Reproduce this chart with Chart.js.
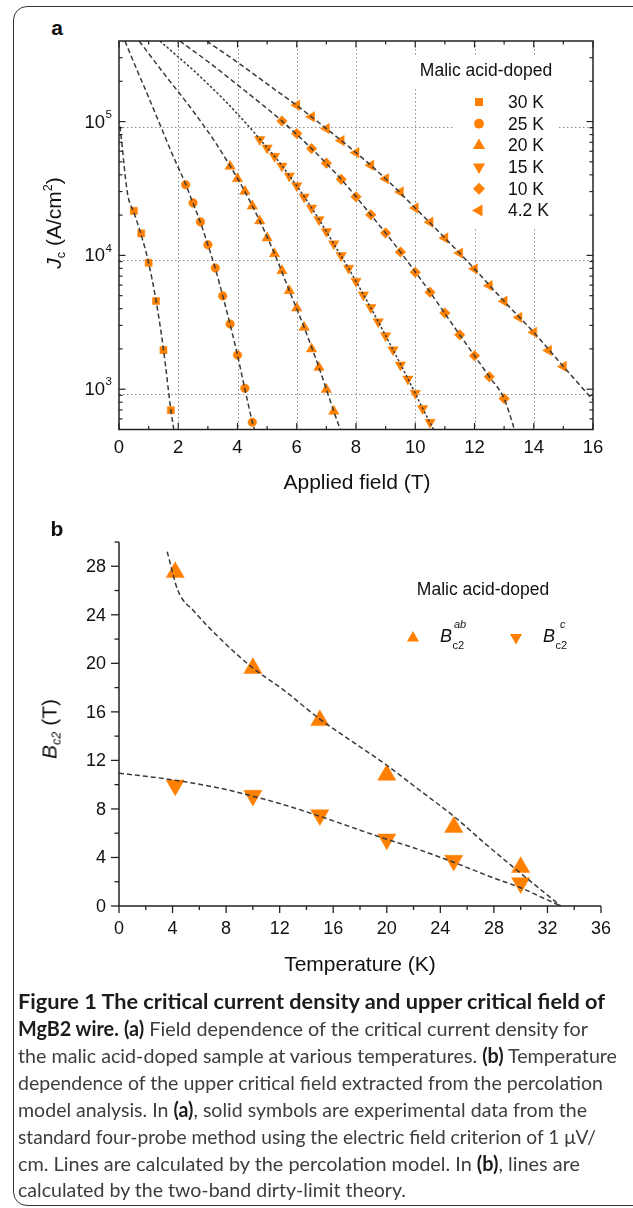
<!DOCTYPE html>
<html>
<head>
<meta charset="utf-8">
<title>MgB2 wire - Jc and Bc2</title>
<script src="https://cdn.jsdelivr.net/npm/chart.js@4.4.1/dist/chart.umd.min.js"></script>
<style>
  html, body { margin: 0; padding: 0; background: #fff; }
  body { width: 633px; height: 1208px; position: relative; overflow: hidden; font-family: "Liberation Sans", Arial, sans-serif; color: #111; }
  .frame { position: absolute; left: 13px; top: 6px; width: 700px; height: 1200px; border: 1.5px solid #333; border-radius: 14px; box-sizing: border-box; }
  .panel { position: absolute; font-weight: bold; font-size: 21px; line-height: 1; transform: translate(-50%, -50%); }
  canvas { position: absolute; left: 0; }
  .ytitle { position: absolute; line-height: 1; white-space: nowrap; font-size: 21px; transform: translate(-50%, -50%) rotate(-90deg); }
  .xtitle { position: absolute; line-height: 1; white-space: nowrap; font-size: 21px; transform: translate(-50%, -50%); }
  sub { font-size: 0.6em; vertical-align: -0.35em; }
  sup { font-size: 0.6em; vertical-align: 0.65em; }
  .cap { position: absolute; left: 18px; white-space: nowrap; line-height: 1; font-family: Lato, "Open Sans", sans-serif; font-size: 20px; color: #3d3d3d; transform-origin: 0 50%; }
  .cap b { color: #1c1c1c; }
</style>
</head>
<body>
<div class="frame"></div>

<div class="panel" style="left:57px;top:27px">a</div>
<canvas id="chartA" width="633" height="500" style="top:0"></canvas>
<div class="ytitle" style="left:55px;top:223px"><i>J</i><sub>c</sub> (A/cm<sup>2</sup>)</div>
<div class="xtitle" style="left:357px;top:481px">Applied field (T)</div>

<div class="panel" style="left:57px;top:528px">b</div>
<canvas id="chartB" width="633" height="480" style="top:500px"></canvas>
<div class="ytitle" style="left:51px;top:729px"><i>B</i><sub><i>c2</i></sub> (T)</div>
<div class="xtitle" style="left:360px;top:963px">Temperature (K)</div>

<div class="cap" data-w="587" style="top:991px"><b>Figure 1 The critical current density and upper critical field of</b></div>
<div class="cap" data-w="570" style="top:1018px"><b>MgB2 wire.</b> <b>(a)</b> Field dependence of the critical current density for</div>
<div class="cap" data-w="599" style="top:1045px">the malic acid-doped sample at various temperatures. <b>(b)</b> Temperature</div>
<div class="cap" data-w="585" style="top:1072px">dependence of the upper critical field extracted from the percolation</div>
<div class="cap" data-w="569" style="top:1099px">model analysis. In <b>(a)</b>, solid symbols are experimental data from the</div>
<div class="cap" data-w="578" style="top:1126px">standard four-probe method using the electric field criterion of 1 μV/</div>
<div class="cap" data-w="562" style="top:1153px">cm. Lines are calculated by the percolation model. In <b>(b)</b>, lines are</div>
<div class="cap" data-w="388" style="top:1179px">calculated by the two-band dirty-limit theory.</div>

<script>
// ---- panel a: Jc vs applied field (T), measured points ----
const field30 = [0.5, 0.75, 1.0, 1.25, 1.5, 1.75];
const jc30 = [21500, 14600, 8800, 4560, 1960, 697];
const field25 = [2.25, 2.5, 2.75, 3.0, 3.25, 3.5, 3.75, 4.0, 4.25, 4.5];
const jc25 = [33700, 24700, 17800, 12000, 8060, 4980, 3070, 1800, 1016, 566];
const field20 = [3.75, 4.0, 4.25, 4.5, 4.75, 5.0, 5.25, 5.5, 5.75, 6.0, 6.25, 6.5, 6.75, 7.0, 7.25];
const jc20 = [46300, 37400, 30100, 23400, 18100, 13500, 10300, 7690, 5450, 4040, 2900, 2000, 1455, 996, 684];
const field15 = [4.75, 5.0, 5.25, 5.5, 5.75, 6.0, 6.25, 6.5, 6.75, 7.0, 7.25, 7.5, 7.75, 8.0, 8.25, 8.5, 8.75, 9.0, 9.25, 9.5, 9.75, 10.0, 10.25, 10.5];
const jc15 = [73300, 63500, 55000, 46500, 39200, 33200, 27300, 22600, 18500, 15100, 12200, 9970, 8020, 6410, 5060, 4080, 3190, 2510, 1970, 1520, 1190, 933, 717, 566];
const field10 = [5.5, 6.0, 6.5, 7.0, 7.5, 8.0, 8.5, 9.0, 9.5, 10.0, 10.5, 11.0, 11.5, 12.0, 12.5, 13.0];
const jc10 = [100900, 81300, 62800, 48900, 37000, 27400, 20100, 14700, 10600, 7480, 5300, 3710, 2550, 1780, 1240, 851];
const field4 = [6.0, 6.5, 7.0, 7.5, 8.0, 8.5, 9.0, 9.5, 10.0, 10.5, 11.0, 11.5, 12.0, 12.5, 13.0, 13.5, 14.0, 14.5, 15.0];
const jc4 = [132400, 108500, 88600, 72100, 58600, 47100, 37400, 29800, 22600, 17700, 13500, 10400, 7930, 5940, 4540, 3440, 2660, 1950, 1480];

// percolation model lines
const fit30Field = [0.03, 0.1, 0.2, 0.3, 0.5, 0.75, 1.0, 1.25, 1.5, 1.75, 1.85];
const fit30Jc = [92000, 68000, 41000, 28000, 21000, 14200, 8800, 4600, 2000, 700, 500];
const fit25Field = [0.2, 0.6, 1.0, 1.4, 1.8, 2.25, 2.5, 2.75, 3.0, 3.25, 3.5, 3.75, 4.0, 4.25, 4.5, 4.57];
const fit25Jc = [400000, 245000, 152000, 93000, 57000, 34000, 24500, 17600, 12000, 8000, 5000, 3050, 1800, 1000, 570, 500];
const fit20Field = [0.68, 1.5, 2.5, 3.25, 3.75, 4.25, 4.75, 5.25, 5.75, 6.25, 6.75, 7.25, 7.47];
const fit20Jc = [400000, 231000, 120000, 70000, 46600, 30000, 18100, 10300, 5450, 2900, 1450, 684, 500];
const fit15Field = [1.38, 2.0, 2.5, 3.0, 3.5, 4.0, 4.5, 4.75, 5.25, 5.75, 6.25, 6.75, 7.25, 7.75, 8.25, 8.75, 9.25, 9.75, 10.25, 10.62];
const fit15Jc = [400000, 304000, 243000, 191000, 149000, 114000, 86000, 74000, 55000, 39500, 27500, 18600, 12200, 8000, 5100, 3200, 1970, 1200, 720, 500];
const fit10Field = [2.05, 3.0, 4.0, 5.0, 5.5, 6.5, 7.5, 8.5, 9.5, 10.5, 11.5, 12.5, 13.0, 13.35];
const fit10Jc = [400000, 281000, 188000, 125000, 101000, 62800, 37000, 20100, 10600, 5300, 2550, 1240, 851, 500];
const fit4Field = [2.96, 4.0, 5.0, 6.0, 7.0, 8.0, 9.0, 10.0, 11.0, 12.0, 13.0, 14.0, 15.0, 16.0];
const fit4Jc = [400000, 277000, 191000, 132000, 88600, 58600, 37400, 22600, 13500, 7930, 4540, 2660, 1480, 830];

const tempLabels = ['30 K', '25 K', '20 K', '15 K', '10 K', '4.2 K'];
const fieldTicks = [0, 2, 4, 6, 8, 10, 12, 14, 16];
const fieldMinorTicks = [1, 3, 5, 7, 9, 11, 13, 15];
const jcDecades = [1e3, 1e4, 1e5];

// ---- panel b: Bc2 vs temperature ----
const tempAb = [4.2, 10, 15, 20, 25, 30];
const bc2Ab = [27.5, 19.6, 15.3, 10.8, 6.5, 3.2];
const tempC = [4.2, 10, 15, 20, 25, 30];
const bc2C = [9.95, 9.1, 7.5, 5.5, 3.75, 1.9];
const fitAbTemp = [3.6, 4.4, 5.6, 7.4, 9.9, 12.3, 15.0, 17.5, 20.0, 22.5, 25.0, 27.5, 30.0, 32.0, 33.0];
const fitAbVal = [29.2, 26.0, 24.3, 22.2, 19.7, 17.8, 15.4, 13.5, 11.6, 9.5, 7.4, 5.0, 2.7, 0.9, 0.0];
const fitCTemp = [0, 4, 8, 10, 12, 15, 18, 20, 22, 25, 28, 30, 32, 33];
const fitCVal = [10.95, 10.4, 9.6, 9.05, 8.45, 7.4, 6.25, 5.5, 4.8, 3.6, 2.3, 1.5, 0.5, 0.0];
const tempTicks = [0, 4, 8, 12, 16, 20, 24, 28, 32, 36];
const tempMinorTicks = [2, 6, 10, 14, 18, 22, 26, 30, 34];
const bc2Ticks = [0, 4, 8, 12, 16, 20, 24, 28];
const bc2MinorTicks = [2, 6, 10, 14, 18, 22, 26, 30];

const ORANGE = '#ff8000';
const LINE = '#3a3a3a';
const FONT = '"Liberation Sans", Arial, sans-serif';

const pts = (xs, ys) => xs.map((x, i) => ({ x: x, y: ys[i] }));

function drawMarker(ctx, style, rot, x, y, r) {
  ctx.beginPath();
  if (style === 'circle') {
    ctx.arc(x, y, r, 0, Math.PI * 2);
  } else if (style === 'rect') {
    const s = r * Math.SQRT1_2;
    ctx.rect(x - s, y - s, 2 * s, 2 * s);
  } else if (style === 'rectRot') {
    ctx.moveTo(x, y - r); ctx.lineTo(x + r, y); ctx.lineTo(x, y + r); ctx.lineTo(x - r, y); ctx.closePath();
  } else {
    let ang = rot * Math.PI / 180;
    for (let i = 0; i < 3; i++) {
      const px = x + Math.sin(ang) * r, py = y - Math.cos(ang) * r;
      if (i) ctx.lineTo(px, py); else ctx.moveTo(px, py);
      ang += 2 * Math.PI / 3;
    }
    ctx.closePath();
  }
  ctx.fill();
}

function seg(ctx, x1, y1, x2, y2) {
  ctx.beginPath(); ctx.moveTo(x1, y1); ctx.lineTo(x2, y2); ctx.stroke();
}

const seriesA = [
  { field: field30, jc: jc30, fitF: fit30Field, fitJ: fit30Jc, style: 'rect', rot: 0, r: 5.0, lr: 5.7, dash: [5, 3] },
  { field: field25, jc: jc25, fitF: fit25Field, fitJ: fit25Jc, style: 'circle', rot: 0, r: 4.3, lr: 4.9, dash: [5, 3] },
  { field: field20, jc: jc20, fitF: fit20Field, fitJ: fit20Jc, style: 'triangle', rot: 0, r: 6.0, lr: 7.0, dash: [5, 3] },
  { field: field15, jc: jc15, fitF: fit15Field, fitJ: fit15Jc, style: 'triangle', rot: 180, r: 6.0, lr: 7.0, dash: [2.5, 2] },
  { field: field10, jc: jc10, fitF: fit10Field, fitJ: fit10Jc, style: 'rectRot', rot: 0, r: 5.3, lr: 6.0, dash: [5, 3] },
  { field: field4, jc: jc4, fitF: fit4Field, fitJ: fit4Jc, style: 'triangle', rot: 270, r: 6.0, lr: 7.0, dash: [5, 3] }
];

const datasetsA = [];
seriesA.forEach((s, i) => {
  datasetsA.push({
    label: tempLabels[i] + ' fit', data: pts(s.fitF, s.fitJ), showLine: true, pointRadius: 0,
    borderColor: LINE, borderWidth: 1.5, borderDash: s.dash, cubicInterpolationMode: 'monotone', order: 0
  });
  datasetsA.push({
    label: tempLabels[i], data: pts(s.field, s.jc), pointStyle: s.style, rotation: s.rot,
    pointRadius: s.r, backgroundColor: ORANGE, borderColor: ORANGE, borderWidth: 0.5, order: 1
  });
});

const axesA = {
  id: 'axesA',
  beforeDatasetsDraw(chart) {
    const { ctx, chartArea: a, scales: { x, y } } = chart;
    ctx.save();
    // dotted grid
    ctx.strokeStyle = '#8c8c8c';
    ctx.lineWidth = 1;
    ctx.setLineDash([1.5, 2.5]);
    fieldTicks.slice(1, -1).forEach(v => {
      const px = Math.round(x.getPixelForValue(v)) + 0.5;
      seg(ctx, px, a.top, px, a.bottom);
    });
    jcDecades.forEach(v => {
      const py = Math.round(y.getPixelForValue(v)) + 5.5;
      seg(ctx, a.left, py, a.right, py);
    });
    ctx.setLineDash([]);
    // legend (opaque, hides grid)
    ctx.fillStyle = '#fff';
    ctx.fillRect(408, 55, 156, 32);
    ctx.fillRect(454, 87, 103, 142);
    ctx.fillStyle = '#111';
    ctx.font = '17.5px ' + FONT;
    ctx.textAlign = 'center';
    ctx.textBaseline = 'middle';
    ctx.fillText('Malic acid-doped', 486, 71);
    ctx.textAlign = 'left';
    seriesA.forEach((s, i) => {
      const ly = 102 + i * 21.7;
      ctx.fillStyle = ORANGE;
      drawMarker(ctx, s.style, s.rot, 479, ly, s.lr);
      ctx.fillStyle = '#111';
      ctx.fillText(tempLabels[i], 508, ly + 1);
    });
    ctx.restore();
  },
  afterDatasetsDraw(chart) {
    const { ctx, chartArea: a, scales: { x, y } } = chart;
    ctx.save();
    ctx.strokeStyle = '#222';
    ctx.lineWidth = 1.5;
    ctx.strokeRect(a.left, a.top, a.right - a.left, a.bottom - a.top);
    ctx.lineWidth = 1.2;
    fieldTicks.forEach(v => {
      const px = x.getPixelForValue(v);
      seg(ctx, px, a.bottom, px, a.bottom - 6.5);
      seg(ctx, px, a.top, px, a.top + 6.5);
    });
    fieldMinorTicks.forEach(v => {
      const px = x.getPixelForValue(v);
      seg(ctx, px, a.bottom, px, a.bottom - 3.5);
      seg(ctx, px, a.top, px, a.top + 3.5);
    });
    const yMin = y.min, yMax = y.max;
    for (let d = 100; d <= 1e5; d *= 10) {
      for (let m = 1; m <= 9; m++) {
        const v = m * d;
        if (v <= yMin || v >= yMax) continue;
        const py = y.getPixelForValue(v);
        const len = m === 1 ? 6.5 : 3.5;
        seg(ctx, a.left, py, a.left + len, py);
        seg(ctx, a.right, py, a.right - len, py);
      }
    }
    // tick labels
    ctx.fillStyle = '#111';
    ctx.textBaseline = 'middle';
    ctx.textAlign = 'center';
    ctx.font = '18.5px ' + FONT;
    fieldTicks.forEach(v => ctx.fillText(String(v), x.getPixelForValue(v), a.bottom + 18));
    jcDecades.forEach(v => {
      const py = y.getPixelForValue(v);
      ctx.textAlign = 'right';
      ctx.font = '18.5px ' + FONT;
      ctx.fillText('10', a.left - 14, py + 1);
      ctx.textAlign = 'left';
      ctx.font = '11.5px ' + FONT;
      ctx.fillText(String(Math.round(Math.log10(v))), a.left - 13.5, py - 7);
    });
    ctx.restore();
  }
};

new Chart(document.getElementById('chartA'), {
  type: 'scatter',
  data: { datasets: datasetsA },
  options: {
    responsive: false,
    animation: false,
    devicePixelRatio: 1,
    layout: { padding: { left: 119, top: 41, right: 40, bottom: 70.5 } },
    plugins: { legend: { display: false }, tooltip: { enabled: false } },
    scales: {
      x: { type: 'linear', min: 0, max: 16, display: false },
      y: { type: 'logarithmic', min: 500, max: 400000, display: false }
    }
  },
  plugins: [axesA]
});

// ---- panel b ----
const axesB = {
  id: 'axesB',
  afterDatasetsDraw(chart) {
    const { ctx, chartArea: a, scales: { x, y } } = chart;
    ctx.save();
    ctx.strokeStyle = '#222';
    ctx.lineWidth = 1.5;
    seg(ctx, a.left, a.top, a.left, a.bottom);
    seg(ctx, a.left, a.bottom, a.right, a.bottom);
    ctx.lineWidth = 1.3;
    tempTicks.forEach(v => { const px = x.getPixelForValue(v); seg(ctx, px, a.bottom, px, a.bottom + 7); });
    tempMinorTicks.forEach(v => { const px = x.getPixelForValue(v); seg(ctx, px, a.bottom, px, a.bottom + 4); });
    bc2Ticks.forEach(v => { const py = y.getPixelForValue(v); seg(ctx, a.left, py, a.left - 8, py); });
    bc2MinorTicks.forEach(v => { const py = y.getPixelForValue(v); seg(ctx, a.left, py, a.left - 4.5, py); });
    ctx.fillStyle = '#111';
    ctx.font = '18px ' + FONT;
    ctx.textBaseline = 'middle';
    ctx.textAlign = 'center';
    tempTicks.forEach(v => ctx.fillText(String(v), x.getPixelForValue(v), a.bottom + 23));
    ctx.textAlign = 'right';
    bc2Ticks.forEach(v => ctx.fillText(String(v), a.left - 13, y.getPixelForValue(v) + 1));
    // legend
    ctx.textAlign = 'center';
    ctx.font = '17.5px ' + FONT;
    ctx.fillText('Malic acid-doped', 483, 90);
    ctx.fillStyle = ORANGE;
    drawMarker(ctx, 'triangle', 0, 413, 138, 7);
    drawMarker(ctx, 'triangle', 180, 516, 137.5, 7);
    ctx.fillStyle = '#111';
    ctx.textAlign = 'left';
    ctx.font = 'italic 18px ' + FONT;
    ctx.fillText('B', 440, 137);
    ctx.fillText('B', 543, 137);
    ctx.font = 'italic 11px ' + FONT;
    ctx.fillText('ab', 454, 125);
    ctx.fillText('c', 560, 125);
    ctx.font = '11px ' + FONT;
    ctx.fillText('c2', 452.5, 146);
    ctx.fillText('c2', 555.5, 146);
    ctx.restore();
  }
};

new Chart(document.getElementById('chartB'), {
  type: 'scatter',
  data: {
    datasets: [
      { label: 'Bc2 ab fit', data: pts(fitAbTemp, fitAbVal), showLine: true, pointRadius: 0,
        borderColor: LINE, borderWidth: 1.5, borderDash: [5, 3], cubicInterpolationMode: 'monotone', order: 0 },
      { label: 'Bc2 c fit', data: pts(fitCTemp, fitCVal), showLine: true, pointRadius: 0,
        borderColor: LINE, borderWidth: 1.5, borderDash: [5, 3], cubicInterpolationMode: 'monotone', order: 0 },
      { label: 'Bc2 ab', data: pts(tempAb, bc2Ab), pointStyle: 'triangle', rotation: 0, pointRadius: 10.5,
        backgroundColor: ORANGE, borderColor: ORANGE, borderWidth: 0.5, order: 1 },
      { label: 'Bc2 c', data: pts(tempC, bc2C), pointStyle: 'triangle', rotation: 180, pointRadius: 10.5,
        backgroundColor: ORANGE, borderColor: ORANGE, borderWidth: 0.5, order: 1 }
    ]
  },
  options: {
    responsive: false,
    animation: false,
    devicePixelRatio: 1,
    layout: { padding: { left: 119, top: 42, right: 32, bottom: 74 } },
    plugins: { legend: { display: false }, tooltip: { enabled: false } },
    scales: {
      x: { type: 'linear', min: 0, max: 36, display: false },
      y: { type: 'linear', min: 0, max: 30, display: false }
    }
  },
  plugins: [axesB]
});

// squeeze caption lines to the widths of the original layout
document.querySelectorAll('.cap').forEach(el => {
  const w = el.getBoundingClientRect().width;
  el.style.transform = 'scaleX(' + (Number(el.dataset.w) / w) + ')';
});
</script>
</body>
</html>
